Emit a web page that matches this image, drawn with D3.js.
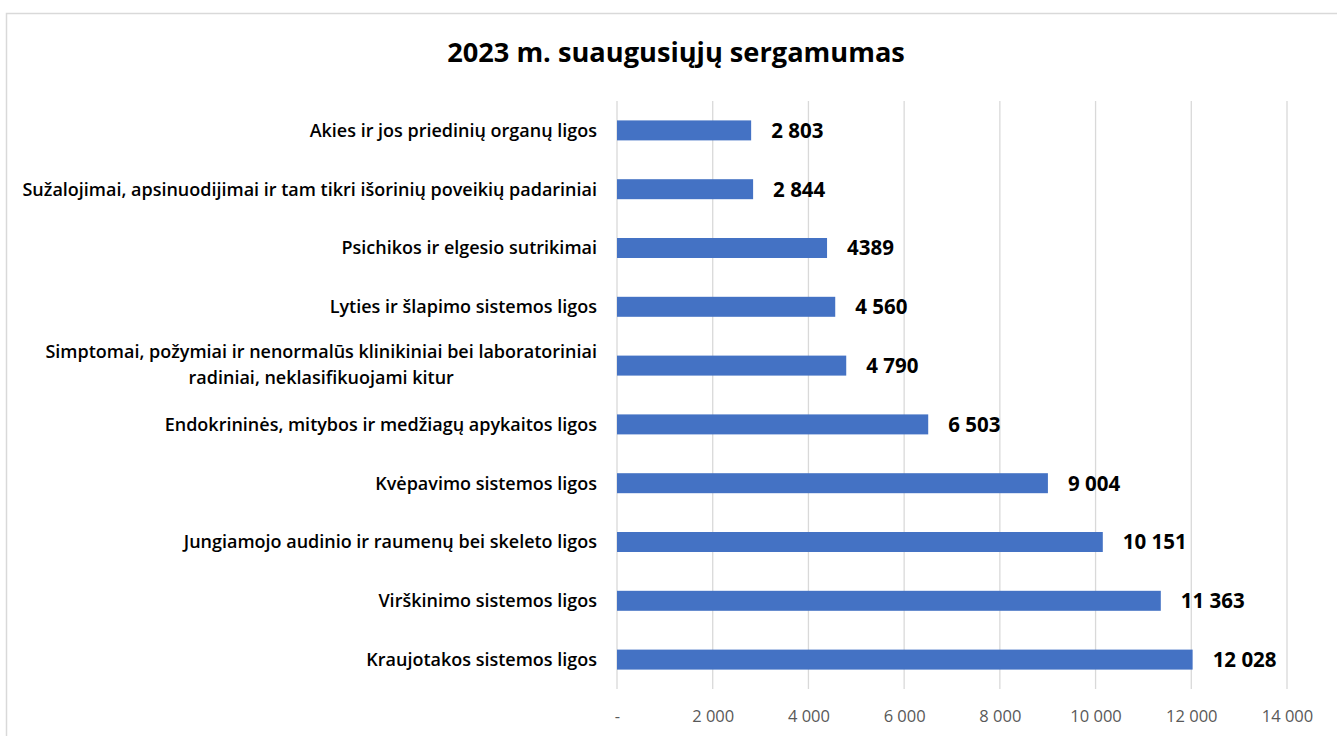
<!DOCTYPE html>
<html>
<head>
<meta charset="utf-8">
<script src="https://cdn.jsdelivr.net/npm/d3@7"></script>
<style>
  body { margin: 0; background: #fff; }
  svg { display: block; font-family: "Open Sans", "Noto Sans", sans-serif; }
</style>
</head>
<body>
<div id="chart"></div>
<script>
// duomenys
var categories = [
  "Akies ir jos priedinių organų ligos",
  "Sužalojimai, apsinuodijimai ir tam tikri išorinių poveikių padariniai",
  "Psichikos ir elgesio sutrikimai",
  "Lyties ir šlapimo sistemos ligos",
  "Simptomai, požymiai ir nenormalūs klinikiniai bei laboratoriniai|radiniai, neklasifikuojami kitur",
  "Endokrininės, mitybos ir medžiagų apykaitos ligos",
  "Kvėpavimo sistemos ligos",
  "Jungiamojo audinio ir raumenų bei skeleto ligos",
  "Virškinimo sistemos ligos",
  "Kraujotakos sistemos ligos"
];
var values = [2803, 2844, 4389, 4560, 4790, 6503, 9004, 10151, 11363, 12028];
var valueLabels = ["2 803", "2 844", "4389", "4 560", "4 790", "6 503", "9 004", "10 151", "11 363", "12 028"];
var tickValues = [0, 2000, 4000, 6000, 8000, 10000, 12000, 14000];
var tickLabels = ["-", "2 000", "4 000", "6 000", "8 000", "10 000", "12 000", "14 000"];
var title = "2023 m. suaugusiųjų sergamumas";

var width = 1337, height = 736;
var plotLeft = 617, plotRight = 1287, plotTop = 101, plotBottom = 689;

var svg = d3.select("#chart").append("svg")
    .attr("width", width)
    .attr("height", height);

// rėmelis
svg.append("rect")
    .attr("x", 6.5).attr("y", 13.5)
    .attr("width", 1340).attr("height", 740)
    .attr("fill", "#fff")
    .attr("stroke", "#d9d9d9")
    .attr("stroke-width", 1.5);

var titleText = svg.append("text")
    .attr("x", 676).attr("y", 62)
    .attr("text-anchor", "middle")
    .attr("font-size", 27)
    .attr("font-weight", "bold")
    .attr("fill", "#000")
    .text(title);
// pritaikom plotį prie ~458px
var tw = titleText.node().getComputedTextLength();
titleText.attr("font-size", 27 * 458 / tw);

var x = d3.scaleLinear().domain([0, 14000]).range([plotLeft, plotRight]);
var y = d3.scaleBand().domain(categories).range([plotTop, plotBottom]).paddingInner(0.66).paddingOuter(0.33);

// tinklelis
svg.append("g").selectAll("line")
    .data(tickValues)
    .enter().append("line")
    .attr("x1", function (d) { return x(d); })
    .attr("x2", function (d) { return x(d); })
    .attr("y1", plotTop).attr("y2", plotBottom)
    .attr("stroke", "#d9d9d9")
    .attr("stroke-width", 1.3);

var xAxis = d3.axisBottom(x)
    .tickValues(tickValues)
    .tickSize(0)
    .tickFormat(function (d, i) { return tickLabels[i]; });

svg.append("g")
    .attr("transform", "translate(0," + (plotBottom + 18) + ")")
    .call(xAxis)
    .call(function (g) { g.select(".domain").remove(); })
    .selectAll("text")
    .attr("font-family", "'Open Sans', 'Noto Sans', sans-serif")
    .attr("font-size", 16.5)
    .attr("fill", "#595959");

// stulpeliai
svg.append("g").selectAll("rect")
    .data(values)
    .enter().append("rect")
    .attr("x", x(0))
    .attr("y", function (d, i) { return y(categories[i]); })
    .attr("width", function (d) { return x(d) - x(0); })
    .attr("height", y.bandwidth())
    .attr("fill", "#4472c4");

// reikšmės
svg.append("g").selectAll("text")
    .data(values)
    .enter().append("text")
    .attr("x", function (d) { return x(d) + 20; })
    .attr("y", function (d, i) { return y(categories[i]) + y.bandwidth() / 2; })
    .attr("dy", "0.36em")
    .attr("font-size", 20.5)
    .attr("font-weight", "bold")
    .attr("fill", "#000")
    .text(function (d, i) { return valueLabels[i]; });

// kategorijos
var catSize = 17.5;
var cat = svg.append("g").selectAll("text")
    .data(categories)
    .enter().append("text")
    .attr("font-size", catSize)
    .attr("font-weight", 600)
    .attr("fill", "#000")
    .attr("transform", function (d) {
      return "translate(597," + (y(d) + y.bandwidth() / 2) + ")";
    });

cat.each(function (d) {
  var lines = d.split("|");
  var t = d3.select(this);
  if (lines.length === 1) {
    t.append("tspan").attr("text-anchor", "end").attr("dy", "0.35em").text(lines[0]);
  } else {
    t.append("tspan").attr("class", "l1").attr("text-anchor", "end").attr("x", 0).attr("dy", "-0.45em").text(lines[0]);
    t.append("tspan").attr("class", "l2").attr("text-anchor", "middle").attr("dy", "1.45em").text(lines[1]);
  }
});

// ilgiausias tekstas ~575px
var longest = cat.filter(function (d, i) { return i === 1; }).node().getComputedTextLength();
catSize = catSize * 575 / longest;
cat.attr("font-size", catSize);
cat.selectAll("tspan.l2").each(function () {
  var l1 = d3.select(this.parentNode).select("tspan.l1").node();
  d3.select(this).attr("x", -l1.getComputedTextLength() / 2);
});
</script>
</body>
</html>
